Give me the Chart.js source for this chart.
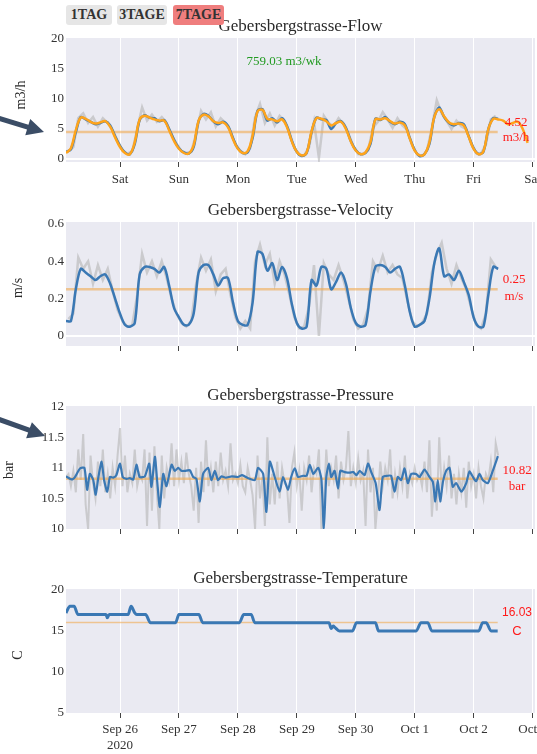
<!DOCTYPE html>
<html>
<head>
<meta charset="utf-8">
<script src="https://cdn.jsdelivr.net/npm/chart.js@4.4.0/dist/chart.umd.min.js"></script>
<style>
  body { margin: 0; background: #fff; }
  #page { position: relative; width: 537px; height: 754px; overflow: hidden; font-family: "Liberation Serif", serif; }
  canvas { position: absolute; left: 0; }
  .btn { position: absolute; top: 5px; height: 20px; line-height: 20px; font-weight: bold; font-size: 14px;
         color: #333; background: #e6e6e6; border-radius: 3px; text-align: center; z-index: 2; }
</style>
</head>
<body>
<div id="page">
  <canvas id="flow" width="537" height="195" style="top:0px"></canvas>
  <canvas id="velocity" width="537" height="180" style="top:195px"></canvas>
  <canvas id="pressure" width="537" height="175" style="top:375px"></canvas>
  <canvas id="temperature" width="537" height="204" style="top:550px"></canvas>
  <canvas id="arrows" width="537" height="754" style="top:0px; pointer-events:none; z-index:1"></canvas>
  <div class="btn" style="left:66px; width:46px">1TAG</div>
  <div class="btn" style="left:117px; width:50px">3TAGE</div>
  <div class="btn" style="left:173px; width:51px; background:#ef7e7e">7TAGE</div>
</div>
<script>
"use strict";

// time axis: hours since Fri Sep 25 2020 00:00
const dayTicks = [24, 48, 72, 96, 120, 144, 168, 192];
const dayNames = ["Sat", "Sun", "Mon", "Tue", "Wed", "Thu", "Fri", "Sat"];
const dateNames = ["Sep 26", "Sep 27", "Sep 28", "Sep 29", "Sep 30", "Oct 1", "Oct 2", "Oct 3"];
const lastHour = 177.8;

function stepHours(start, end, step) {
    let out = [];
    for (let h = start; h <= end + 1e-9; h += step) out.push(h);
    return out;
}
const evenHours = stepHours(2, 178, 2);
const oddHours = stepHours(3, 177, 2);
const allHours = stepHours(2, 178, 1);
const smoothHours = stepHours(2, 190, 2);

// Flow m3/h
const flowMean = 4.52;
const flowWeek = 759.03;
const flowBlue = [1.2, 1.6, 4.5, 7.0, 6.6, 6.2, 5.8, 6.0, 6.3, 5.6, 3.8, 2.2,
    1.1, 0.8, 2.5, 6.5, 7.3, 6.9, 6.8, 6.3, 6.5, 5.0, 3.2, 1.8,
    1.1, 0.9, 2.0, 6.3, 7.5, 7.2, 6.3, 5.8, 6.2, 5.5, 3.5, 1.8,
    1.0, 1.1, 3.5, 8.0, 8.3, 6.4, 6.8, 6.1, 6.8, 5.5, 3.0, 1.2,
    0.5, 1.0, 4.5, 6.9, 6.6, 6.5, 5.0, 6.0, 6.3, 5.2, 3.0, 1.5,
    0.8, 1.0, 2.5, 6.7, 6.5, 7.0, 6.2, 5.8, 6.2, 5.8, 3.5, 1.5,
    0.5, 0.8, 2.5, 7.0, 8.6, 7.0, 6.0, 5.6, 6.0, 5.8, 3.8, 1.8,
    0.8, 1.2, 5.0, 6.8, 6.7];
const flowRaw = [1.3, 2.0, 6.8, 7.6, 6.0, 7.0, 5.4, 6.8, 6.0, 4.8, 3.0, 1.4,
    0.9, 1.3, 5.0, 8.6, 6.4, 7.4, 6.2, 7.0, 6.0, 4.0, 2.6, 1.3,
    1.0, 1.2, 4.2, 8.0, 6.6, 7.8, 5.4, 6.8, 6.0, 4.6, 2.4, 1.4,
    0.8, 1.8, 7.0, 9.2, 6.0, 7.6, 5.6, 7.2, 6.4, 4.4, 1.8, 0.7,
    0.6, 2.0, 6.2, 0.2, 7.2, 6.0, 5.4, 6.8, 5.8, 4.2, 2.2, 0.8,
    0.9, 1.4, 5.2, 6.2, 7.8, 6.6, 5.2, 6.8, 5.6, 4.8, 2.4, 0.8,
    0.5, 1.4, 5.2, 9.8, 7.6, 6.4, 5.0, 6.4, 5.4, 5.0, 2.6, 1.0,
    0.9, 2.4, 6.6, 7.2];
const flowSmooth = [1.0, 1.8, 4.8, 6.9, 6.7, 6.2, 5.9, 6.1, 6.3, 5.4, 3.6, 2.0,
    1.0, 0.8, 2.8, 6.6, 7.2, 6.9, 6.6, 6.4, 6.4, 4.8, 3.0, 1.7,
    1.0, 0.9, 2.3, 6.4, 7.4, 7.1, 6.3, 6.0, 6.1, 5.3, 3.3, 1.7,
    1.0, 1.3, 3.9, 7.9, 8.2, 6.7, 6.6, 6.3, 6.6, 5.3, 2.9, 1.2,
    0.6, 1.1, 4.6, 6.8, 6.7, 6.3, 5.6, 6.0, 6.2, 5.0, 2.9, 1.4,
    0.8, 1.1, 2.8, 6.6, 6.6, 6.8, 6.3, 5.9, 6.1, 5.6, 3.4, 1.4,
    0.6, 0.8, 2.8, 7.0, 8.3, 7.1, 6.1, 5.8, 5.9, 5.6, 3.7, 1.7,
    0.8, 1.3, 5.0, 6.7, 6.6, 6.4, 5.8, 6.0, 6.2, 5.0, 2.7];

// Velocity m/s
const velMean = 0.25;
const velBlue = [0.08, 0.08, 0.25, 0.36, 0.34, 0.32, 0.30, 0.32, 0.33, 0.28, 0.20, 0.12,
    0.06, 0.05, 0.07, 0.33, 0.37, 0.37, 0.36, 0.34, 0.37, 0.27, 0.15, 0.10,
    0.06, 0.06, 0.12, 0.34, 0.38, 0.38, 0.33, 0.27, 0.31, 0.31, 0.18, 0.08,
    0.06, 0.06, 0.18, 0.45, 0.44, 0.35, 0.39, 0.30, 0.37, 0.31, 0.17, 0.07,
    0.04, 0.05, 0.30, 0.27, 0.37, 0.36, 0.25, 0.29, 0.34, 0.28, 0.15, 0.07,
    0.05, 0.06, 0.24, 0.37, 0.38, 0.37, 0.34, 0.36, 0.37, 0.27, 0.13, 0.05,
    0.06, 0.08, 0.20, 0.39, 0.47, 0.32, 0.33, 0.30, 0.35, 0.29, 0.22, 0.10,
    0.05, 0.05, 0.22, 0.37, 0.36];
const velRaw = [0.09, 0.12, 0.42, 0.36, 0.40, 0.28, 0.38, 0.30, 0.36, 0.24, 0.14, 0.08,
    0.05, 0.06, 0.22, 0.44, 0.34, 0.40, 0.32, 0.40, 0.31, 0.20, 0.12, 0.07,
    0.05, 0.08, 0.28, 0.42, 0.35, 0.41, 0.24, 0.33, 0.36, 0.22, 0.10, 0.04,
    0.08, 0.04, 0.40, 0.49, 0.38, 0.44, 0.28, 0.40, 0.33, 0.22, 0.10, 0.04,
    0.05, 0.16, 0.38, 0.00, 0.39, 0.33, 0.30, 0.38, 0.30, 0.20, 0.09, 0.04,
    0.06, 0.15, 0.40, 0.35, 0.43, 0.34, 0.38, 0.33, 0.31, 0.19, 0.08, 0.05,
    0.07, 0.12, 0.34, 0.44, 0.50, 0.36, 0.28, 0.38, 0.31, 0.25, 0.15, 0.06,
    0.04, 0.12, 0.41, 0.37];

// Pressure bar
const presMean = 10.82;
const presBlueHours = [2, 4.3, 5.5, 7.7, 9.5, 10.6, 11.7, 13.1, 14.1, 15.2, 16.5, 17.5, 18.8, 19.9, 21.2, 22.5,
    24, 25.1, 26.7, 28, 29.4, 30.7, 32, 34.1, 35.9, 36.8, 38.2, 39.1, 40.2, 41.6, 42.9, 45, 46.3, 47.7,
    49, 50.4, 52.4, 53.8, 55.1, 56.5, 57.8, 59.9, 61.2, 62.6, 63.9, 65.3, 67, 69.5, 72, 73.7, 76.2,
    78.9, 80.2, 82.3, 83.6, 85, 87, 89, 90.4, 92.4, 93.7, 95.2, 96.5, 98.5, 100, 101.3, 102.7, 104.7,
    106, 107, 108, 109.1, 110, 111.4, 112.8, 113.7, 115.5, 117.5, 119, 120.3, 121.6, 123.6, 125,
    126.3, 128.1, 129.7, 131, 133, 134.4, 135.8, 137.1, 138.5, 139.9, 141.2, 142.6, 144.6, 146, 148,
    150, 151.4, 152.4, 153.4, 154.4, 155.5, 156.8, 158.2, 159.5, 160.9, 163, 165, 166.3, 167.7, 169,
    170.4, 171.7, 173.8, 175.8, 177.9];
const presBlue = [10.86, 10.81, 10.84, 10.99, 11.0, 10.64, 10.9, 10.8, 10.56, 10.85, 11.1, 10.8, 10.61, 10.85, 10.84, 10.88,
    11.07, 10.85, 10.82, 10.83, 10.81, 11.05, 10.85, 10.86, 11.07, 10.69, 11.18, 10.8, 10.36, 10.9, 10.7, 11.05, 10.95, 11.0,
    10.95, 10.95, 10.96, 10.85, 10.82, 10.45, 10.9, 11.0, 10.8, 10.95, 10.8, 10.86, 10.84, 10.86, 10.85, 10.88, 10.83,
    10.8, 11.0, 10.9, 10.28, 11.1, 10.85, 10.61, 10.85, 10.64, 10.85, 10.99, 10.85, 10.87, 10.87, 11.05, 10.9, 11.0,
    10.82, 10.01, 10.85, 11.07, 10.85, 10.95, 10.66, 10.95, 10.93, 10.92, 10.93, 10.88, 10.95, 10.88, 11.07,
    10.93, 10.75, 10.31, 10.85, 10.87, 10.87, 10.61, 10.85, 10.8, 10.99, 10.75, 10.9, 10.9, 10.85, 10.97,
    10.85, 10.77, 10.45, 10.8, 10.45, 10.77, 10.95, 11.0, 10.69, 10.75, 10.61, 10.75, 10.94, 10.85, 10.78,
    10.9, 10.8, 10.75, 10.95, 11.19];
const presRaw = [10.85, 10.9, 10.7, 10.95, 10.6, 11.3, 10.8, 11.55, 10.4, 10.0, 11.2, 10.75,
    10.5, 11.1, 10.7, 11.3, 10.6, 10.9, 10.5, 11.0, 10.7, 11.2, 11.65, 10.7,
    11.2, 10.6, 10.9, 10.75, 11.3, 10.7, 10.9, 10.8, 11.3, 10.05, 11.25, 10.3,
    11.35, 10.6, 10.0, 11.2, 10.5, 11.0, 10.8, 11.4, 10.7, 11.3, 10.8, 11.1,
    10.75, 11.25, 10.9, 10.7, 10.3, 11.0, 10.1, 11.1, 10.6, 11.45, 10.7, 11.0,
    10.6, 11.1, 10.7, 11.25, 10.8, 10.95, 10.7, 11.4, 10.8, 10.9, 10.75, 11.05,
    10.7, 10.6, 11.0, 10.8, 10.55, 10.0, 11.2, 10.5, 10.85, 10.05, 11.5, 10.4,
    10.9, 10.4, 11.1, 10.5, 11.0, 10.75, 10.7, 10.1, 11.0, 11.25, 10.7, 10.95,
    10.3, 11.0, 10.8, 11.2, 10.6, 11.0, 10.9, 11.3, 10.0, 10.4, 11.3, 10.7,
    11.0, 10.8, 11.2, 10.5, 11.1, 10.8, 11.0, 11.6, 10.7, 11.0, 10.75, 11.15,
    10.8, 10.95, 10.05, 11.3, 10.6, 11.0, 10.0, 10.5, 11.1, 10.7, 11.0, 10.8,
    11.3, 10.5, 10.9, 10.6, 11.0, 10.7, 11.2, 10.5, 10.9, 10.75, 11.0, 10.8,
    10.9, 10.7, 11.1, 10.6, 11.45, 10.2, 10.8, 10.3, 11.5, 10.6, 11.0, 10.7,
    11.2, 10.5, 10.9, 10.4, 10.9, 10.6, 11.0, 10.35, 11.1, 10.7, 10.9, 10.5,
    11.0, 10.7, 10.5, 10.9, 10.8, 11.1, 10.6, 11.4, 11.2];

// Temperature C
const tempMean = 16.03;
const tempHours = [2, 3.6, 5.3, 6.9, 18.3, 18.8, 19.6, 27.3, 28.5, 30, 30.8, 34.4, 36.4, 46.6, 48, 56.1, 57.7,
    72.6, 74.4, 77.4, 78.9, 109.1, 110, 110.8, 111.6, 113.3, 118.7, 120.3, 128, 129.3, 144.6, 146.6,
    149.3, 151, 170.1, 171.7, 173.1, 175.1, 177.8];
const tempBlue = [17.2, 18, 18, 17, 17, 16.6, 17, 17, 18, 17.2, 17, 17, 16, 16, 17, 17, 16,
    16, 17, 17, 16, 16, 15.3, 15.6, 15.4, 15, 15, 16, 16, 15, 15, 16,
    16, 15, 15, 16, 16, 15, 15];

const BLUE = "#3a78b4";
const GRAY = "rgba(175,175,175,0.55)";
const MEANC = "rgba(240,170,80,0.6)";

function series(xs, ys, color, width, extra) {
    return Object.assign({
        data: xs.map((x, i) => ({ x: x, y: ys[i] })),
        borderColor: color, borderWidth: width, pointRadius: 0, fill: false, tension: 0.3
    }, extra || {});
}
function meanLine(value, width) {
    return series([2, lastHour], [value, value], MEANC, width, { tension: 0 });
}

const panelDecor = {
    id: "panelDecor",
    beforeDraw(chart) {
        const a = chart.chartArea, ctx = chart.ctx;
        ctx.save();
        ctx.fillStyle = "#eaeaf2";
        ctx.fillRect(a.left, a.top, a.right - a.left, a.bottom - a.top);
        ctx.restore();
    },
    afterDraw(chart, args, o) {
        const ctx = chart.ctx, a = chart.chartArea, xs = chart.scales.x;
        ctx.save();
        ctx.textAlign = "center";
        ctx.textBaseline = "middle";
        ctx.fillStyle = "#2a2a2a";
        ctx.font = '17px "Liberation Serif"';
        ctx.fillText(o.title, (a.left + a.right) / 2, o.titleY);

        ctx.save();
        ctx.translate(o.yTitleX, o.yTitleY);
        ctx.rotate(-Math.PI / 2);
        ctx.font = '14px "Liberation Serif"';
        ctx.fillText(o.yTitle, 0, 0);
        ctx.restore();

        ctx.fillStyle = "#333";
        ctx.font = '13px "Liberation Serif"';
        if (o.xLabels) {
            dayTicks.forEach((v, i) => ctx.fillText(o.xLabels[i], xs.getPixelForValue(v), a.bottom + o.xLabelDy));
        }
        if (o.year) {
            ctx.fillText(o.year, xs.getPixelForValue(dayTicks[0]), a.bottom + o.xLabelDy + 16);
        }
        (o.notes || []).forEach(n => {
            ctx.font = n.font || '13px "Liberation Serif"';
            ctx.fillStyle = n.color;
            ctx.fillText(n.text, n.x, n.y);
        });
        ctx.restore();
    }
};

function panel(id, spec) {
    const canvas = document.getElementById(id);
    const H = canvas.height;
    return new Chart(canvas, {
        type: "line",
        data: { datasets: spec.datasets },
        options: {
            responsive: false, animation: false, events: [], devicePixelRatio: 1,
            layout: { padding: { top: spec.top, right: 2, left: 0, bottom: 0 } },
            plugins: { legend: { display: false }, tooltip: { enabled: false }, panelDecor: spec.decor },
            scales: {
                x: {
                    type: "linear", min: 2, max: 193,
                    afterBuildTicks: s => { s.ticks = dayTicks.map(v => ({ value: v })); },
                    afterFit: s => { s.height = H - spec.bottom; },
                    ticks: { display: false },
                    grid: { color: "#ffffff", lineWidth: 1, drawTicks: true, tickLength: 5, tickColor: "#444", tickWidth: 1 },
                    border: { display: false }
                },
                y: {
                    min: spec.yMin, max: spec.yMax,
                    afterBuildTicks: s => { s.ticks = spec.yTicks.map(v => ({ value: v })); },
                    afterFit: s => { s.width = 66; },
                    ticks: { font: { family: '"Liberation Serif"', size: 13 }, color: "#333", padding: 2, callback: v => String(v) },
                    grid: {
                        drawTicks: false, lineWidth: 2,
                        color: c => (spec.zeroLine && c.tick && c.tick.value === 0) ? "#ffffff" : "rgba(0,0,0,0)"
                    },
                    border: { display: false }
                }
            }
        },
        plugins: [panelDecor]
    });
}

panel("flow", {
    top: 38, bottom: 162, yMin: -0.5, yMax: 20.17, yTicks: [0, 5, 10, 15, 20], zeroLine: true,
    datasets: [
        series(smoothHours, flowSmooth, "#ffa41b", 2.5, { tension: 0.4 }),
        series(evenHours, flowBlue, BLUE, 2.5),
        meanLine(flowMean, 2.5),
        series(oddHours, flowRaw, GRAY, 2.5, { tension: 0 })
    ],
    decor: {
        title: "Gebersbergstrasse-Flow", titleY: 27, yTitle: "m3/h", yTitleX: 21, yTitleY: 95,
        xLabels: dayNames, xLabelDy: 18,
        notes: [
            { text: flowWeek.toFixed(2) + " m3/wk", x: 284, y: 62, color: "#229a22" },
            { text: flowMean.toFixed(2), x: 516, y: 123, color: "#ff1a1a" },
            { text: "m3/h", x: 516, y: 138, color: "#ff1a1a" }
        ]
    }
});

panel("velocity", {
    top: 27, bottom: 151, yMin: -0.0536, yMax: 0.6107, yTicks: [0, 0.2, 0.4, 0.6], zeroLine: true,
    datasets: [
        series(evenHours, velBlue, BLUE, 2.5),
        meanLine(velMean, 2.5),
        series(oddHours, velRaw, GRAY, 2.5, { tension: 0 })
    ],
    decor: {
        title: "Gebersbergstrasse-Velocity", titleY: 16, yTitle: "m/s", yTitleX: 18, yTitleY: 93,
        notes: [
            { text: velMean.toFixed(2), x: 514, y: 85, color: "#ff1a1a" },
            { text: "m/s", x: 514, y: 102, color: "#ff1a1a" }
        ]
    }
});

panel("pressure", {
    top: 31, bottom: 154, yMin: 10, yMax: 12.01, yTicks: [10, 10.5, 11, 11.5, 12], zeroLine: false,
    datasets: [
        series(presBlueHours, presBlue, BLUE, 2.2, { tension: 0.2 }),
        meanLine(presMean, 2.5),
        series(allHours, presRaw, GRAY, 2, { tension: 0 })
    ],
    decor: {
        title: "Gebersbergstrasse-Pressure", titleY: 21, yTitle: "bar", yTitleX: 9, yTitleY: 95,
        notes: [
            { text: presMean.toFixed(2), x: 517, y: 96, color: "#ff1a1a" },
            { text: "bar", x: 517, y: 112, color: "#ff1a1a" }
        ]
    }
});

panel("temperature", {
    top: 39, bottom: 163, yMin: 4.96, yMax: 20.12, yTicks: [5, 10, 15, 20], zeroLine: false,
    datasets: [
        series(tempHours, tempBlue, BLUE, 3, { tension: 0, cubicInterpolationMode: "monotone" }),
        meanLine(tempMean, 1.5)
    ],
    decor: {
        title: "Gebersbergstrasse-Temperature", titleY: 29, yTitle: "C", yTitleX: 18, yTitleY: 105,
        xLabels: dateNames, xLabelDy: 17, year: "2020",
        notes: [
            { text: tempMean.toFixed(2), x: 517, y: 63, color: "#ff1a1a", font: '12px "Liberation Sans"' },
            { text: "C", x: 517, y: 81, color: "#ff1a1a", font: '13px "Liberation Sans"' }
        ]
    }
});

// pointer arrows drawn over the page
function arrow(ctx, x0, y0, x1, y1) {
    const ang = Math.atan2(y1 - y0, x1 - x0);
    const headLen = 17, headHalf = 8.5, shaft = 2.5;
    const bx = x1 - headLen * Math.cos(ang), by = y1 - headLen * Math.sin(ang);
    const nx = -Math.sin(ang), ny = Math.cos(ang);
    ctx.beginPath();
    ctx.moveTo(x0 + nx * shaft, y0 + ny * shaft);
    ctx.lineTo(bx + nx * shaft, by + ny * shaft);
    ctx.lineTo(bx + nx * headHalf, by + ny * headHalf);
    ctx.lineTo(x1, y1);
    ctx.lineTo(bx - nx * headHalf, by - ny * headHalf);
    ctx.lineTo(bx - nx * shaft, by - ny * shaft);
    ctx.lineTo(x0 - nx * shaft, y0 - ny * shaft);
    ctx.closePath();
    ctx.fill();
}
const actx = document.getElementById("arrows").getContext("2d");
actx.fillStyle = "#3b4d66";
arrow(actx, -2, 118, 44, 132);
arrow(actx, -2, 419, 45, 436);
</script>
</body>
</html>
